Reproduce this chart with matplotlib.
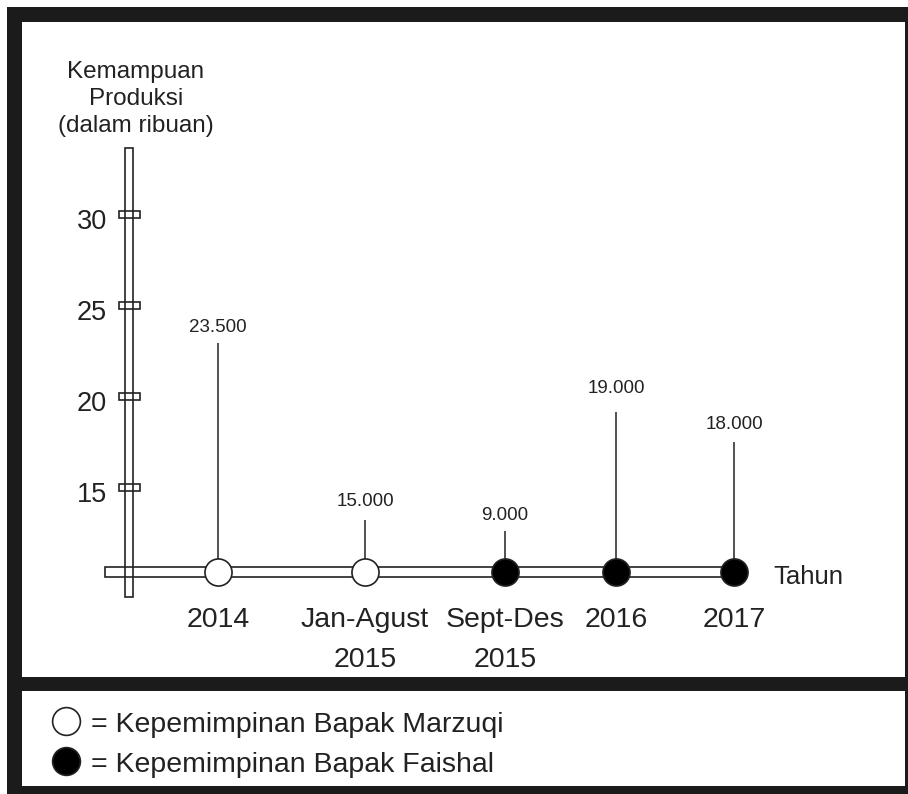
import numpy as np
import matplotlib.pyplot as plt
from matplotlib.patches import Rectangle

plt.rcParams['font.family'] = ['Liberation Sans', 'DejaVu Sans']

# Data dari gambar
kategori = ['2014', 'Jan-Agust\n2015', 'Sept-Des\n2015', '2016', '2017']
nilai = [23500, 15000, 9000, 19000, 18000]
# tinggi garis seperti tergambar (dalam skala sumbu, ribuan)
tinggi_batang = [22.9, 13.2, 12.6, 19.1, 17.5]
pemimpin = ['Marzuqi', 'Marzuqi', 'Faishal', 'Faishal', 'Faishal']
ytick = [15, 20, 25, 30]
judul_y = ['Kemampuan', 'Produksi', '(dalam ribuan)']
legenda = ['= Kepemimpinan Bapak Marzuqi', '= Kepemimpinan Bapak Faishal']

W, H = 908, 794
HITAM = '#1b1b1b'
GARIS = '#222222'

# tata letak (piksel)
pos_x = [218, 365, 505, 616, 734]
jarak_label = [11, 13.5, 10.5, 19, 12.5]
skala = 18.2  # piksel per satuan


def nv(p):
    # piksel (dari atas) -> nilai sumbu y
    return 15 + (487 - p) / skala


fig = plt.figure(figsize=(W / 100, H / 100), dpi=100)
fig.patch.set_facecolor('white')
ax = fig.add_axes([0, 0, 1, 1])
ax.set_xlim(0, W)
ax.set_ylim(nv(H), nv(0))
ax.axis('off')


def kotak(x0, y0, x1, y1, warna):
    ax.add_patch(Rectangle((x0, nv(y1)), x1 - x0, nv(y0) - nv(y1),
                           facecolor=warna, lw=0, zorder=0))


# bingkai
kotak(7, 7, W, H, HITAM)
kotak(22, 22, 905, 677, 'white')
kotak(22, 691, 905, 786, 'white')

# sumbu ganda
ax.add_patch(Rectangle((125, nv(597)), 8, nv(148) - nv(597),
                       fill=False, ec=GARIS, lw=1.2, zorder=2))
ax.add_patch(Rectangle((105, nv(577)), pos_x[-1] - 105, nv(567) - nv(577),
                       fill=False, ec=GARIS, lw=1.2, zorder=2))
for t in ytick:
    ax.add_patch(Rectangle((119, t - 3.5 / skala), 21, 7 / skala,
                           fill=False, ec=GARIS, lw=1.2, zorder=2))
    ax.text(107, t - 15 / skala, str(t), ha='right', va='baseline',
            fontsize=19.5, color=GARIS)

for i, baris in enumerate(judul_y):
    ax.text(136, nv([78, 105, 132][i]), baris, ha='center', va='baseline',
            fontsize=17.5, color=GARIS)

# batang dan titik
dasar = nv(572)
ax.vlines(pos_x, dasar, tinggi_batang, color=GARIS, lw=1.1, zorder=3)
for x, p in zip(pos_x, pemimpin):
    warna = 'white' if p == 'Marzuqi' else 'black'
    ax.plot(x, dasar, 'o', ms=19.5, mfc=warna, mec=GARIS, mew=1.2, zorder=4)

for x, t, v, d in zip(pos_x, tinggi_batang, nilai, jarak_label):
    label = f'{v:,}'.replace(',', '.')
    ax.annotate(label, (x, t), xytext=(0, d * 0.72), textcoords='offset points',
                ha='center', va='baseline', fontsize=13.5, color=GARIS)

for x, k in zip(pos_x, kategori):
    for j, baris in enumerate(k.split('\n')):
        ax.text(x, nv([627, 667][j]), baris, ha='center', va='baseline',
                fontsize=20.5, color=GARIS)

ax.text(773, nv(584), 'Tahun', ha='left', va='baseline', fontsize=18.5, color=GARIS)

# legenda
for j, teks in enumerate(legenda):
    yc = [721, 761][j]
    warna = 'white' if j == 0 else 'black'
    ax.plot(66, nv(yc), 'o', ms=20, mfc=warna, mec=GARIS, mew=1.2, zorder=4)
    ax.text(91, nv(yc + 11), teks, ha='left', va='baseline',
            fontsize=20.5, color=GARIS)

fig.savefig('out.png', dpi=100)
